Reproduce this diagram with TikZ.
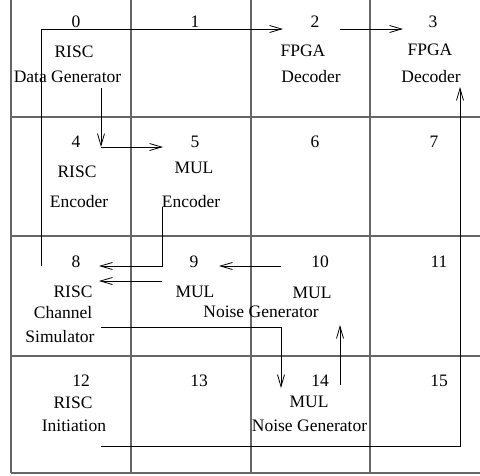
\documentclass[tikz,border=0pt]{standalone}
\usepackage{fontspec}
\setmainfont{Liberation Serif}
\usetikzlibrary{arrows.meta}
\begin{document}
\begin{tikzpicture}[x=1pt,y=-1pt,
  gridline/.style={draw=black!60, line width=1.1pt},
  conn/.style={draw=black, line width=0.8pt},
  arr/.style={conn, -{Straight Barb[length=12pt,width=7pt]}},
  lbl/.style={inner sep=0pt, font=\fontsize{17.5}{20}\selectfont}]
\useasboundingbox (0,0) rectangle (480,475);
\fill[white] (0,0) rectangle (480,475);
% grid
\foreach \x in {11,131,251,370} \draw[gridline] (\x,0) -- (\x,473);
\foreach \y in {117,236,356,473} \draw[gridline] (11,\y) -- (480,\y);
% labels
\node[lbl] (n0) at (76,22) {0};
\node[lbl] (r0) at (74,52) {RISC};
\node[lbl] (d0) at (67.5,77) {Data Generator};
\node[lbl] (n1) at (195,22) {1};
\node[lbl] (n2) at (315,22) {2};
\node[lbl] (f2) at (303,51) {FPGA};
\node[lbl] (d2) at (311,77) {Decoder};
\node[lbl] (n3) at (433,22) {3};
\node[lbl] (f3) at (430,50) {FPGA};
\node[lbl] (d3) at (431,77) {Decoder};
\node[lbl] (n4) at (76,142) {4};
\node[lbl] (r4) at (77,172) {RISC};
\node[lbl] (e4) at (79,202) {Encoder};
\node[lbl] (n5) at (195,142) {5};
\node[lbl] (m5) at (194,168) {MUL};
\node[lbl] (e5) at (191,202) {Encoder};
\node[lbl] (n6) at (315,142) {6};
\node[lbl] (n7) at (434,142) {7};
\node[lbl] (n8) at (76,262) {8};
\node[lbl] (r8) at (73,292) {RISC};
\node[lbl] (c8) at (63,313) {Channel};
\node[lbl] (s8) at (60,337) {Simulator};
\node[lbl] (n9) at (194,262) {9};
\node[lbl] (m9) at (195,292) {MUL};
\node[lbl] (n10) at (320,262) {10};
\node[lbl] (m10) at (312,293) {MUL};
\node[lbl] (g10) at (261,312) {Noise Generator};
\node[lbl] (n11) at (439,262) {11};
\node[lbl] (n12) at (81,381) {12};
\node[lbl] (r12) at (73,403) {RISC};
\node[lbl] (i12) at (74,426) {Initiation};
\node[lbl] (n13) at (199,381) {13};
\node[lbl] (n14) at (320,381) {14};
\node[lbl] (m14) at (309,402) {MUL};
\node[lbl] (g14) at (309.5,426) {Noise Generator};
\node[lbl] (n15) at (439,381) {15};
% connector points
\coordinate (a8) at (41,266);
\coordinate (a2) at (283,29);
\coordinate (b2) at (340,29);
\coordinate (b3) at (403,29);
\coordinate (c0) at (101,88);
\coordinate (c4) at (101,147);
\coordinate (c5) at (163,147);
\coordinate (d5) at (162,207);
\coordinate (d8) at (99,266);
\coordinate (e9) at (162,281);
\coordinate (e8) at (99,281);
\coordinate (f10) at (281,266);
\coordinate (f9) at (219,266);
\coordinate (g8) at (101,327);
\coordinate (g14) at (281,388);
\coordinate (h14) at (340,385);
\coordinate (h10) at (340,325);
\coordinate (k12) at (101,446);
\coordinate (k3) at (460,87);
% connectors
\draw[arr] (a8) |- (a2);
\draw[arr] (b2) -- (b3);
\draw[arr] (c0) -- (c4);
\draw[arr] (c4) -- (c5);
\draw[arr] (d5) |- (d8);
\draw[arr] (e9) -- (e8);
\draw[arr] (f10) -- (f9);
\draw[arr] (g8) -| (g14);
\draw[arr] (h14) -- (h10);
\draw[arr] (k12) -| (k3);
\end{tikzpicture}
\end{document}
